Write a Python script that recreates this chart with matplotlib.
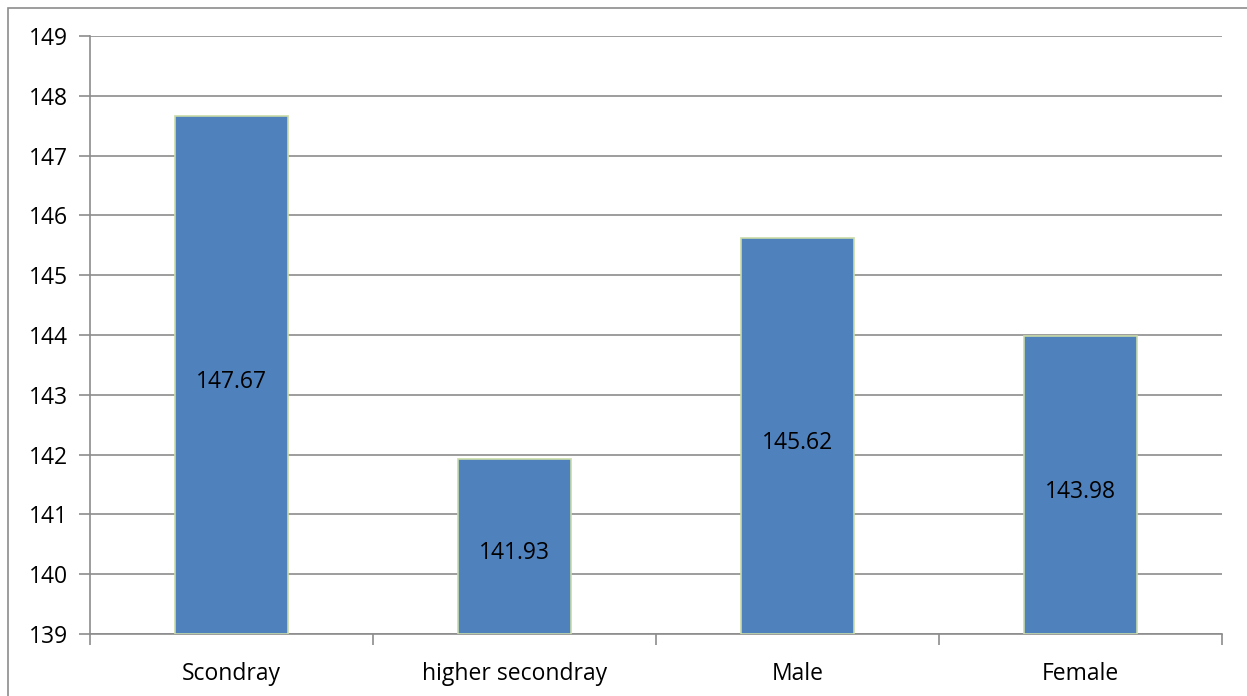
import matplotlib.pyplot as plt
from matplotlib.patches import Rectangle

plt.rcParams['font.family'] = ['Open Sans', 'DejaVu Sans']

categories = ['Scondray', 'higher secondray', 'Male', 'Female']
values = [147.67, 141.93, 145.62, 143.98]
y_ticks = [139, 140, 141, 142, 143, 144, 145, 146, 147, 148, 149]

W, H = 1247, 696
fig = plt.figure(figsize=(W / 100, H / 100), dpi=100)
ax = fig.add_axes([90 / W, 1 - 634 / H, (1222 - 90) / W, (634 - 36) / H])

# outer chart frame, runs off the right and bottom edges
fig.patches.append(Rectangle((8 / W, -0.05), 1.1, 1 - 8 / H + 0.05,
                             transform=fig.transFigure, fill=False,
                             edgecolor='#8c8c8c', linewidth=1.2))

fs = 16.5
x = range(len(categories))
bars = ax.bar(x, [v - 139 for v in values], bottom=139, width=0.4,
              color='#4f81bd', edgecolor='#c9dba8', linewidth=1.2, zorder=3)

for b, v in zip(bars, values):
    ax.annotate(f'{v:.2f}', (b.get_x() + b.get_width() / 2, (139 + v) / 2),
                xytext=(0, -5), textcoords='offset points',
                ha='center', va='center', fontsize=fs, color='black', zorder=4)

ax.set_xlim(-0.5, len(categories) - 0.5)
ax.set_ylim(139, 149)
ax.set_yticks(y_ticks)
ax.set_yticklabels([str(t) for t in y_ticks], fontsize=fs)
ax.yaxis.grid(True, color='#8c8c8c', linewidth=1.2, zorder=0)

# category labels centred, tick marks at the boundaries
ax.set_xticks(list(x))
ax.set_xticklabels(categories, fontsize=fs)
ax.tick_params(axis='x', length=0, pad=20)
ax.set_xticks([i - 0.5 for i in range(len(categories) + 1)], minor=True)
ax.tick_params(axis='x', which='minor', length=8, width=1.2, color='#8c8c8c')
ax.tick_params(axis='y', length=8, width=1.2, color='#8c8c8c', pad=8)

for s in ['top', 'right']:
    ax.spines[s].set_visible(False)
for s in ['left', 'bottom']:
    ax.spines[s].set_color('#8c8c8c')
    ax.spines[s].set_linewidth(1.2)

fig.savefig('out.png', dpi=100)
